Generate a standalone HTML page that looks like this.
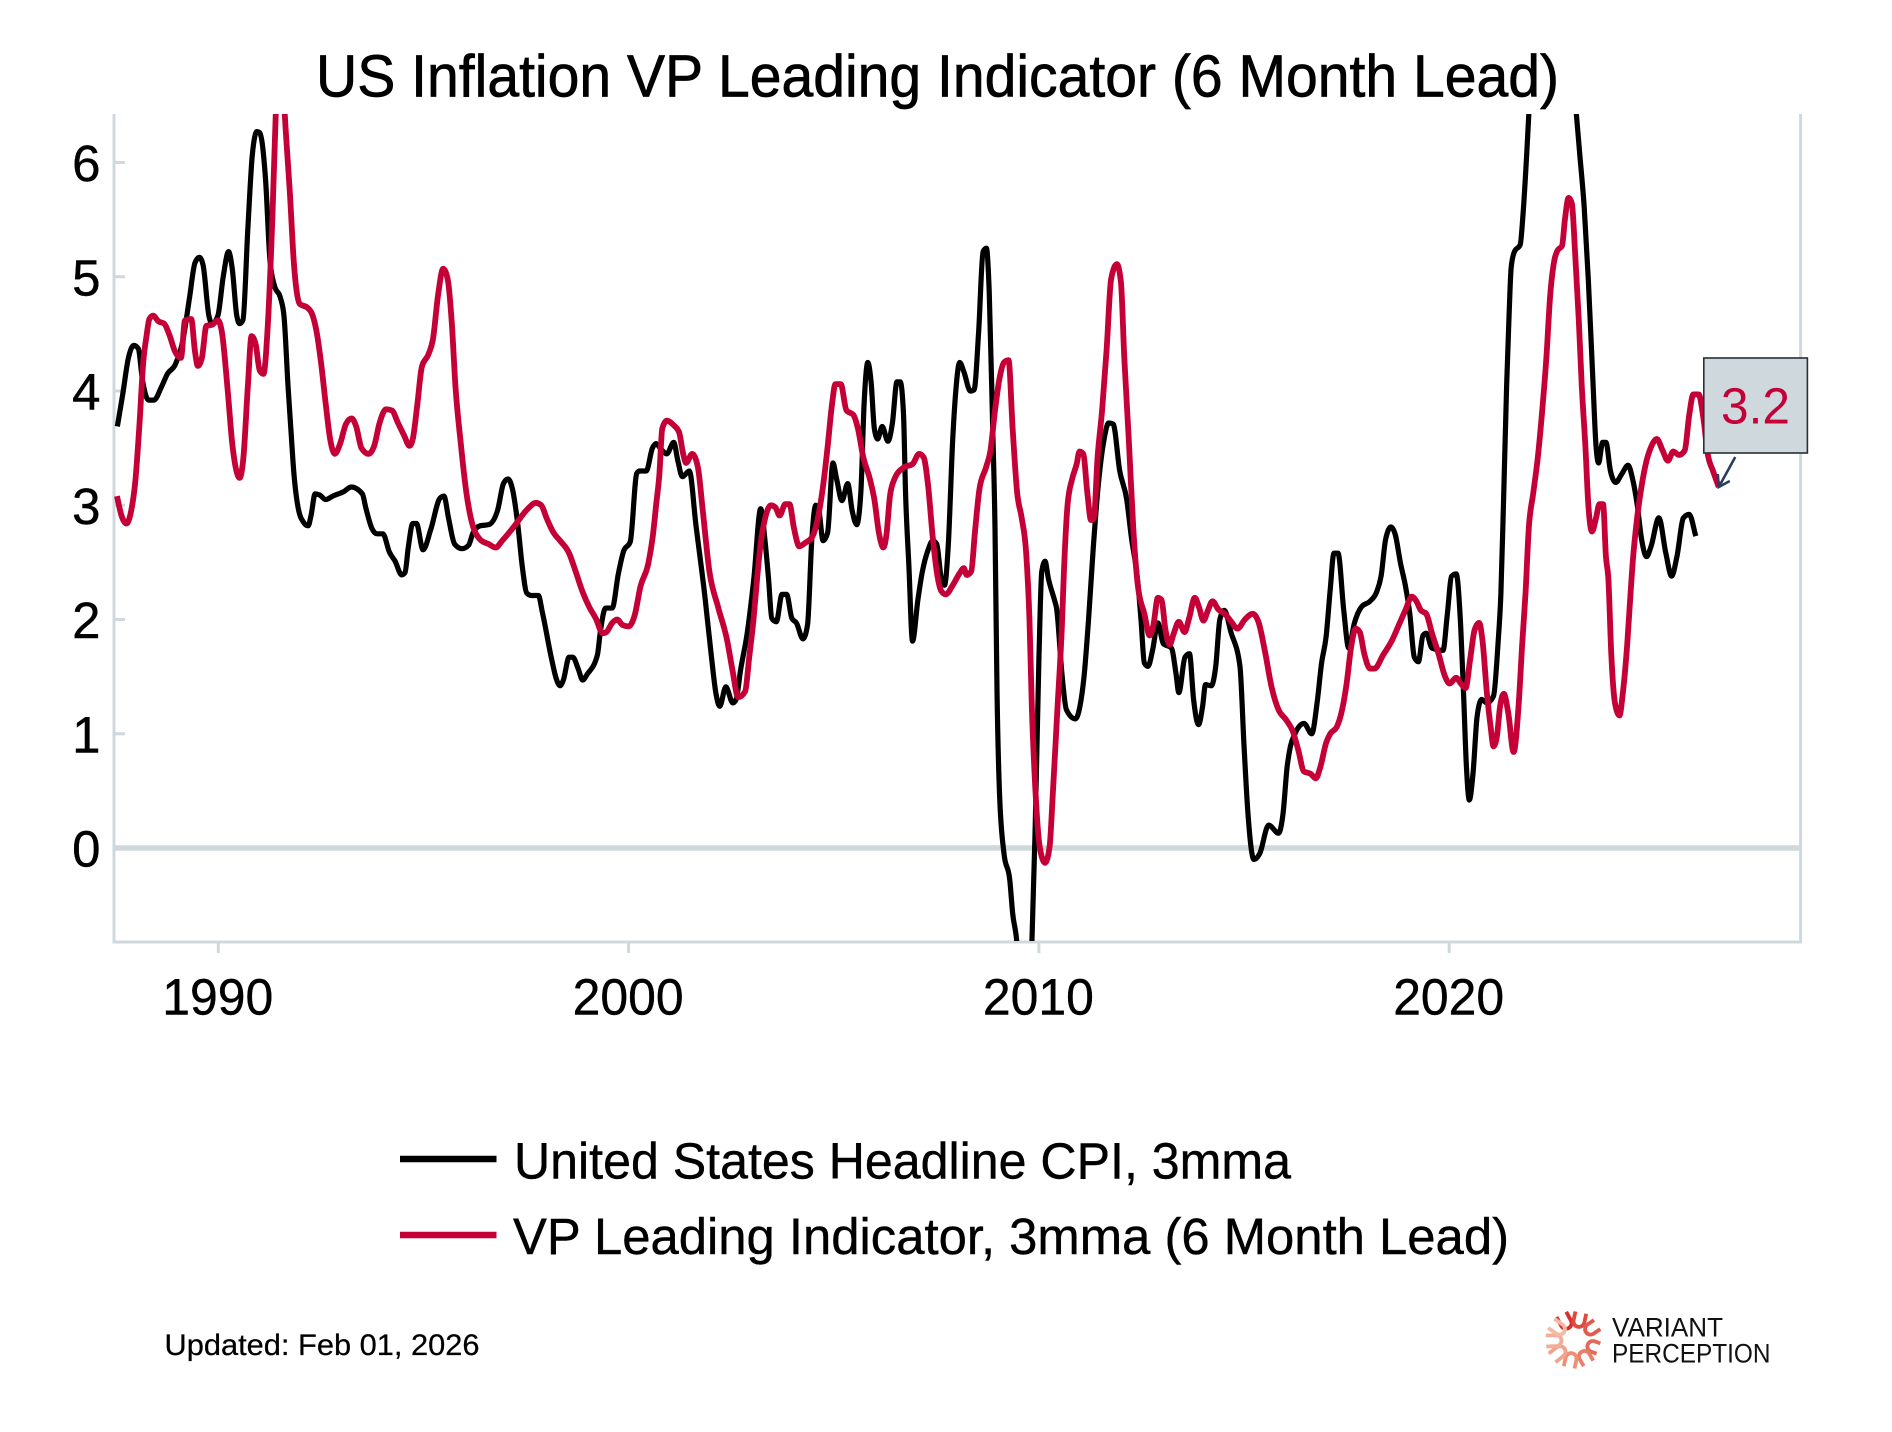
<!DOCTYPE html>
<html lang="en">
<head>
<meta charset="utf-8">
<title>US Inflation VP Leading Indicator (6 Month Lead)</title>
<style>
html,body{margin:0;padding:0;background:#fff;}
svg{display:block;font-family:"Liberation Sans",sans-serif;}
</style>
</head>
<body>
<svg id="chart" xmlns="http://www.w3.org/2000/svg" width="1892" height="1432" viewBox="0 0 1892 1432">
  <defs><clipPath id="plot-clip"><rect x="114" y="114" width="1686" height="827"/></clipPath></defs>
  <rect x="0" y="0" width="1892" height="1432" fill="#fff"/>
  <text x="316" y="96.5" font-size="59" fill="#000" stroke="#000" stroke-width="0.7" textLength="1243" lengthAdjust="spacingAndGlyphs">US Inflation VP Leading Indicator (6 Month Lead)</text>
  <g id="axes"></g>
  <g id="series" clip-path="url(#plot-clip)"></g>
  <g id="callout"></g>

  <line x1="400" y1="1159" x2="496.5" y2="1159" stroke="#000" stroke-width="6.5"/>
  <text x="514" y="1178.5" font-size="51" fill="#000" stroke="#000" stroke-width="0.4" textLength="777" lengthAdjust="spacingAndGlyphs">United States Headline CPI, 3mma</text>
  <line x1="400" y1="1235" x2="496.5" y2="1235" stroke="#C40037" stroke-width="6.5"/>
  <text x="513" y="1254" font-size="51" fill="#000" stroke="#000" stroke-width="0.4" textLength="996" lengthAdjust="spacingAndGlyphs">VP Leading Indicator, 3mma (6 Month Lead)</text>

  <text x="164.5" y="1355" font-size="30" fill="#000" stroke="#000" stroke-width="0.25" textLength="315" lengthAdjust="spacingAndGlyphs">Updated: Feb 01, 2026</text>

  <g id="logo-mark" fill="none" stroke-width="3.8" stroke-linecap="butt"></g>
  <text x="1612" y="1336.7" font-size="26.5" fill="#111" textLength="111" lengthAdjust="spacingAndGlyphs">VARIANT</text>
  <text x="1612" y="1362.3" font-size="26.5" fill="#111" textLength="158.5" lengthAdjust="spacingAndGlyphs">PERCEPTION</text>
</svg>
<script>
var yTickValues = [0, 1, 2, 3, 4, 5, 6];
var xTickYears = [1990, 2000, 2010, 2020];
var calloutLabel = "3.2";

var cpiDates = [
1987.54,1987.67,1987.81,1987.94,1988.05,1988.15,1988.30,1988.43,1988.62,1988.76,
1988.95,1989.14,1989.30,1989.43,1989.54,1989.63,1989.77,1989.85,1989.99,1990.12,
1990.25,1990.34,1990.45,1990.52,1990.60,1990.72,1990.83,1990.94,1991.01,1991.15,
1991.26,1991.37,1991.51,1991.60,1991.70,1991.77,1991.84,1991.95,1992.08,1992.19,
1992.26,1992.36,1992.47,1992.62,1992.79,1993.06,1993.24,1993.51,1993.60,1993.74,
1993.87,1994.01,1994.17,1994.31,1994.47,1994.55,1994.63,1994.74,1994.83,1994.99,
1995.18,1995.40,1995.50,1995.61,1995.76,1995.94,1996.10,1996.21,1996.38,1996.59,
1996.81,1996.95,1997.06,1997.17,1997.30,1997.41,1997.52,1997.63,1997.80,1997.90,
1998.12,1998.23,1998.33,1998.41,1998.55,1998.64,1998.77,1998.88,1998.99,1999.24,
1999.31,1999.44,1999.60,1999.75,1999.88,2000.04,2000.20,2000.27,2000.43,2000.58,
2000.67,2000.77,2000.93,2001.10,2001.20,2001.31,2001.48,2001.64,2001.86,2002.02,
2002.13,2002.22,2002.37,2002.54,2002.62,2002.73,2002.89,2003.05,2003.22,2003.33,
2003.41,2003.49,2003.60,2003.74,2003.85,2003.98,2004.09,2004.25,2004.36,2004.47,
2004.56,2004.63,2004.74,2004.85,2004.98,2005.07,2005.20,2005.34,2005.45,2005.56,
2005.66,2005.74,2005.83,2005.91,2005.99,2006.07,2006.18,2006.32,2006.43,2006.54,
2006.62,2006.70,2006.75,2006.83,2006.92,2007.05,2007.16,2007.30,2007.41,2007.51,
2007.62,2007.70,2007.79,2007.90,2007.97,2008.07,2008.17,2008.33,2008.42,2008.53,
2008.64,2008.72,2008.79,2008.87,2008.93,2008.98,2009.04,2009.15,2009.29,2009.36,
2009.47,2009.55,2009.75,2009.83,2009.91,2010.00,2010.07,2010.15,2010.23,2010.38,
2010.43,2010.56,2010.67,2010.89,2011.00,2011.10,2011.21,2011.32,2011.43,2011.59,
2011.70,2011.81,2011.97,2012.14,2012.25,2012.41,2012.49,2012.57,2012.66,2012.77,
2012.90,2013.03,2013.23,2013.34,2013.41,2013.56,2013.67,2013.77,2013.89,2013.99,
2014.06,2014.20,2014.31,2014.41,2014.52,2014.68,2014.90,2015.00,2015.09,2015.24,
2015.38,2015.60,2015.84,2015.95,2016.05,2016.13,2016.24,2016.46,2016.65,2016.78,
2016.89,2017.00,2017.10,2017.19,2017.29,2017.43,2017.55,2017.69,2017.86,2018.07,
2018.23,2018.34,2018.45,2018.58,2018.68,2018.82,2018.93,2019.04,2019.15,2019.25,
2019.36,2019.44,2019.58,2019.85,2019.95,2020.06,2020.17,2020.28,2020.35,2020.42,
2020.49,2020.58,2020.68,2020.79,2020.92,2021.08,2021.19,2021.26,2021.33,2021.40,
2021.46,2021.51,2021.59,2021.73,2021.80,2021.89,2021.94,2022.50,2023.10,2023.18,
2023.29,2023.39,2023.50,2023.58,2023.64,2023.74,2023.82,2023.93,2024.06,2024.20,
2024.36,2024.47,2024.58,2024.69,2024.81,2024.92,2025.11,2025.28,2025.42,2025.55,
2025.71,2025.85,2026.01
];
var cpiValues = [
3.69,3.97,4.29,4.40,4.37,4.10,3.92,3.92,4.04,4.15,
4.23,4.45,4.82,5.12,5.17,5.10,4.66,4.59,4.66,5.00,
5.22,5.07,4.66,4.59,4.62,5.42,6.07,6.27,6.26,5.86,
5.14,4.92,4.82,4.66,4.04,3.66,3.29,2.97,2.85,2.82,
2.91,3.10,3.09,3.05,3.08,3.12,3.16,3.10,2.97,2.80,
2.75,2.75,2.59,2.51,2.39,2.41,2.63,2.84,2.84,2.61,
2.79,3.06,3.08,2.89,2.66,2.62,2.65,2.76,2.82,2.83,
2.96,3.19,3.23,3.14,2.83,2.46,2.23,2.21,2.21,2.06,
1.66,1.49,1.42,1.47,1.67,1.67,1.57,1.47,1.52,1.69,
1.89,2.10,2.10,2.40,2.60,2.68,3.28,3.30,3.30,3.50,
3.54,3.50,3.45,3.55,3.39,3.25,3.30,2.83,2.20,1.67,
1.35,1.24,1.41,1.27,1.30,1.56,1.88,2.35,2.97,2.67,
2.36,2.01,1.98,2.22,2.22,2.01,1.97,1.83,1.95,2.73,
3.00,2.97,2.69,2.76,3.37,3.23,3.04,3.19,2.95,2.83,
3.11,3.89,4.25,4.08,3.67,3.58,3.69,3.56,3.72,4.08,
4.08,3.80,3.11,2.48,1.81,2.17,2.42,2.61,2.69,2.66,
2.36,2.30,2.64,3.58,3.98,4.25,4.17,4.00,4.01,4.51,
5.22,5.25,4.86,3.73,2.80,1.35,0.48,-0.05,-0.28,-0.57,
-0.86,-1.40,-1.20,-0.82,0.19,1.65,2.42,2.51,2.36,2.17,
2.10,1.53,1.21,1.13,1.24,1.50,2.00,2.60,3.11,3.58,
3.72,3.71,3.30,3.05,2.73,2.33,1.99,1.62,1.59,1.73,
1.97,1.79,1.75,1.53,1.36,1.67,1.70,1.30,1.08,1.24,
1.43,1.42,1.59,2.00,2.08,1.89,1.59,0.89,0.33,-0.10,
-0.05,0.20,0.13,0.30,0.71,0.89,1.00,1.09,1.00,1.27,
1.62,1.85,2.26,2.58,2.58,2.08,1.75,1.97,2.11,2.16,
2.24,2.38,2.70,2.81,2.75,2.48,2.30,2.05,1.67,1.63,
1.86,1.88,1.75,1.73,2.03,2.38,2.40,1.94,1.35,0.71,
0.42,0.65,1.15,1.30,1.27,1.33,1.79,2.23,3.11,4.05,
4.67,5.08,5.22,5.28,5.55,6.08,6.42,8.60,6.42,6.08,
5.61,4.98,4.11,3.51,3.37,3.55,3.55,3.30,3.20,3.27,
3.35,3.23,3.01,2.70,2.55,2.64,2.89,2.58,2.38,2.55,
2.89,2.92,2.73
];

var vpDates = [
1987.53,1987.64,1987.76,1987.87,1987.98,1988.07,1988.18,1988.25,1988.32,1988.41,
1988.54,1988.68,1988.81,1988.94,1989.09,1989.19,1989.34,1989.43,1989.50,1989.60,
1989.71,1989.85,1989.99,1990.09,1990.23,1990.34,1990.45,1990.52,1990.61,1990.72,
1990.81,1990.91,1991.01,1991.10,1991.21,1991.32,1991.40,1991.51,1991.62,1991.75,
1991.84,1991.99,1992.17,1992.30,1992.40,1992.51,1992.62,1992.73,1992.84,1992.97,
1993.11,1993.25,1993.36,1993.49,1993.66,1993.80,1993.93,1994.09,1994.23,1994.38,
1994.53,1994.66,1994.74,1994.85,1994.96,1995.12,1995.23,1995.36,1995.48,1995.59,
1995.69,1995.78,1995.91,1996.05,1996.16,1996.38,1996.59,1996.76,1996.92,1997.20,
1997.52,1997.74,1997.87,1998.01,1998.17,1998.33,1998.55,1998.71,1998.88,1999.04,
1999.20,1999.37,1999.46,1999.60,1999.72,1999.86,2000.00,2000.15,2000.29,2000.48,
2000.59,2000.67,2000.75,2000.82,2000.93,2001.10,2001.23,2001.33,2001.40,2001.55,
2001.69,2001.80,2001.97,2002.18,2002.40,2002.53,2002.67,2002.84,2002.94,2003.05,
2003.13,2003.22,2003.33,2003.47,2003.58,2003.68,2003.82,2003.92,2004.03,2004.16,
2004.30,2004.47,2004.63,2004.74,2004.85,2004.96,2005.04,2005.17,2005.31,2005.48,
2005.59,2005.72,2005.88,2005.99,2006.10,2006.21,2006.28,2006.37,2006.48,2006.70,
2006.92,2007.08,2007.19,2007.30,2007.41,2007.51,2007.62,2007.73,2007.90,2008.06,
2008.17,2008.24,2008.35,2008.44,2008.55,2008.71,2008.82,2008.93,2009.04,2009.15,
2009.26,2009.36,2009.47,2009.58,2009.69,2009.77,2009.83,2009.91,2010.02,2010.15,
2010.26,2010.34,2010.45,2010.56,2010.61,2010.70,2010.81,2010.92,2010.99,2011.08,
2011.18,2011.27,2011.34,2011.43,2011.54,2011.65,2011.76,2011.90,2012.00,2012.08,
2012.19,2012.30,2012.41,2012.57,2012.70,2012.79,2012.90,2012.99,2013.08,2013.19,
2013.28,2013.41,2013.55,2013.66,2013.80,2013.90,2014.01,2014.12,2014.23,2014.37,
2014.53,2014.69,2014.84,2015.02,2015.21,2015.35,2015.51,2015.67,2015.84,2016.03,
2016.19,2016.32,2016.46,2016.62,2016.75,2016.86,2017.00,2017.10,2017.26,2017.39,
2017.50,2017.61,2017.72,2017.82,2017.93,2018.07,2018.18,2018.39,2018.61,2018.77,
2018.93,2019.09,2019.20,2019.31,2019.44,2019.58,2019.74,2019.90,2020.01,2020.17,
2020.28,2020.40,2020.51,2020.62,2020.73,2020.81,2020.92,2021.01,2021.08,2021.16,
2021.24,2021.33,2021.44,2021.57,2021.69,2021.78,2021.86,2021.94,2022.05,2022.16,
2022.26,2022.37,2022.46,2022.56,2022.64,2022.75,2022.82,2022.91,2022.99,2023.07,
2023.16,2023.23,2023.32,2023.39,2023.48,2023.58,2023.66,2023.75,2023.82,2023.88,
2023.95,2024.04,2024.15,2024.23,2024.34,2024.42,2024.47,2024.58,2024.69,2024.81,
2024.92,2025.06,2025.20,2025.33,2025.46,2025.60,2025.74,2025.85,2025.95,2026.08,
2026.20,2026.30,2026.43,2026.57
];
var vpValues = [
3.08,2.91,2.84,2.94,3.22,3.66,4.29,4.48,4.63,4.66,
4.61,4.59,4.49,4.35,4.29,4.62,4.63,4.35,4.22,4.29,
4.57,4.58,4.62,4.51,4.00,3.54,3.29,3.24,3.41,4.04,
4.48,4.41,4.18,4.15,4.60,5.54,6.42,7.20,6.42,5.70,
5.13,4.76,4.73,4.66,4.51,4.23,3.88,3.57,3.45,3.54,
3.71,3.76,3.69,3.50,3.45,3.52,3.72,3.84,3.83,3.72,
3.61,3.52,3.58,3.88,4.21,4.32,4.45,4.85,5.07,4.98,
4.60,4.04,3.54,3.10,2.88,2.70,2.66,2.63,2.69,2.81,
2.96,3.02,3.00,2.88,2.76,2.69,2.58,2.42,2.24,2.11,
2.01,1.88,1.89,1.97,2.00,1.95,1.94,2.04,2.29,2.49,
2.73,3.00,3.27,3.67,3.74,3.70,3.64,3.45,3.37,3.45,
3.33,2.98,2.42,2.11,1.82,1.56,1.32,1.37,1.67,2.02,
2.35,2.67,2.89,3.00,2.98,2.91,3.01,3.01,2.80,2.64,
2.67,2.72,2.92,3.17,3.51,3.89,4.06,4.06,3.83,3.79,
3.67,3.42,3.23,3.05,2.76,2.63,2.73,3.08,3.23,3.33,
3.36,3.45,3.42,3.17,2.73,2.42,2.25,2.22,2.30,2.40,
2.45,2.39,2.42,2.76,3.14,3.33,3.48,3.83,4.11,4.25,
4.27,3.67,3.11,2.89,2.58,2.00,1.21,0.54,0.01,-0.13,
0.01,0.48,1.21,1.94,2.42,3.01,3.23,3.36,3.47,3.45,
3.11,2.87,2.89,3.42,3.83,4.36,4.98,5.11,4.95,4.30,
3.58,2.80,2.30,2.05,1.86,1.95,2.19,2.17,1.92,1.78,
1.87,1.98,1.89,2.01,2.19,2.11,1.99,2.08,2.16,2.09,
2.05,1.98,1.92,2.00,2.05,1.98,1.72,1.41,1.21,1.12,
1.02,0.86,0.67,0.65,0.61,0.71,0.92,1.00,1.06,1.21,
1.44,1.76,1.92,1.89,1.70,1.57,1.57,1.69,1.82,1.95,
2.08,2.20,2.16,2.08,2.05,1.88,1.70,1.50,1.44,1.49,
1.44,1.40,1.65,1.91,1.97,1.82,1.35,1.06,0.89,0.97,
1.24,1.35,1.18,0.84,1.24,1.79,2.23,2.80,3.11,3.42,
3.80,4.30,4.83,5.14,5.23,5.27,5.50,5.69,5.64,5.20,
4.61,4.05,3.51,3.01,2.77,2.89,3.01,3.01,2.55,2.35,
1.70,1.27,1.16,1.35,1.79,2.23,2.49,2.89,3.17,3.39,
3.51,3.58,3.48,3.39,3.47,3.44,3.48,3.79,3.97,3.97,
3.75,3.45,3.30,3.16
];

var SVG_NS = "http://www.w3.org/2000/svg";
var AXIS_COLOR = "#CFD8DC";

function xScale(year) { return 218.3 + 41.03 * (year - 1990); }
function yScale(value) { return 848 - 114.25 * value; }

function sign(v) { return v < 0 ? -1 : 1; }

function buildPath(dates, values) {
  var n = Math.min(dates.length, values.length);
  var xs = [], ys = [], slopes = [], i;
  for (i = 0; i < n; i++) { xs.push(xScale(dates[i])); ys.push(yScale(values[i])); }
  for (i = 0; i < n; i++) {
    if (i === 0) { slopes.push((ys[1] - ys[0]) / (xs[1] - xs[0])); continue; }
    if (i === n - 1) { slopes.push((ys[i] - ys[i - 1]) / (xs[i] - xs[i - 1])); continue; }
    var h0 = xs[i] - xs[i - 1], h1 = xs[i + 1] - xs[i];
    var s0 = (ys[i] - ys[i - 1]) / h0, s1 = (ys[i + 1] - ys[i]) / h1;
    var p = (s0 * h1 + s1 * h0) / (h0 + h1);
    slopes.push((sign(s0) + sign(s1)) * Math.min(Math.abs(s0), Math.abs(s1), 0.5 * Math.abs(p)));
  }
  var d = "M" + xs[0].toFixed(2) + "," + ys[0].toFixed(2);
  for (i = 1; i < n; i++) {
    var dx = (xs[i] - xs[i - 1]) / 3;
    d += "C" + (xs[i - 1] + dx).toFixed(2) + "," + (ys[i - 1] + dx * slopes[i - 1]).toFixed(2) +
         " " + (xs[i] - dx).toFixed(2) + "," + (ys[i] - dx * slopes[i]).toFixed(2) +
         " " + xs[i].toFixed(2) + "," + ys[i].toFixed(2);
  }
  return d;
}

var axes = document.getElementById("axes");
var seriesGroup = document.getElementById("series");
var calloutGroup = document.getElementById("callout");
var logoGroup = document.getElementById("logo-mark");

var leftSpine = document.createElementNS(SVG_NS, "line");


leftSpine.setAttribute("x1", 114); leftSpine.setAttribute("x2", 114);
leftSpine.setAttribute("y1", 114); leftSpine.setAttribute("y2", 943.5);
leftSpine.setAttribute("stroke", AXIS_COLOR); leftSpine.setAttribute("stroke-width", 3);
axes.appendChild(leftSpine);

var rightSpine = document.createElementNS(SVG_NS, "line");


rightSpine.setAttribute("x1", 1800.6); rightSpine.setAttribute("x2", 1800.6);
rightSpine.setAttribute("y1", 114); rightSpine.setAttribute("y2", 943.5);
rightSpine.setAttribute("stroke", AXIS_COLOR); rightSpine.setAttribute("stroke-width", 3);
axes.appendChild(rightSpine);

var bottomSpine = document.createElementNS(SVG_NS, "line");


bottomSpine.setAttribute("x1", 112.5); bottomSpine.setAttribute("x2", 1802);
bottomSpine.setAttribute("y1", 942); bottomSpine.setAttribute("y2", 942);
bottomSpine.setAttribute("stroke", AXIS_COLOR); bottomSpine.setAttribute("stroke-width", 3);
axes.appendChild(bottomSpine);

var zeroLine = document.createElementNS(SVG_NS, "line");


zeroLine.setAttribute("x1", 115); zeroLine.setAttribute("x2", 1800);
zeroLine.setAttribute("y1", yScale(0)); zeroLine.setAttribute("y2", yScale(0));
zeroLine.setAttribute("stroke", AXIS_COLOR); zeroLine.setAttribute("stroke-width", 5.5);
axes.appendChild(zeroLine);

yTickValues.forEach(function (v) {
  var tick = document.createElementNS(SVG_NS, "line");
  
  
  tick.setAttribute("x1", 115); tick.setAttribute("x2", 125);
  tick.setAttribute("y1", yScale(v)); tick.setAttribute("y2", yScale(v));
  tick.setAttribute("stroke", AXIS_COLOR); tick.setAttribute("stroke-width", 3);
  axes.appendChild(tick);

  var label = document.createElementNS(SVG_NS, "text");
  
  
  label.setAttribute("x", 100.5); label.setAttribute("y", yScale(v) + 18.5);
  label.setAttribute("text-anchor", "end");
  label.setAttribute("font-size", 51); label.setAttribute("fill", "#000");
  label.setAttribute("stroke", "#000"); label.setAttribute("stroke-width", 0.4);
  label.textContent = String(v);
  axes.appendChild(label);
});

xTickYears.forEach(function (yr) {
  var tick = document.createElementNS(SVG_NS, "line");
  
  
  tick.setAttribute("x1", xScale(yr)); tick.setAttribute("x2", xScale(yr));
  tick.setAttribute("y1", 943); tick.setAttribute("y2", 953);
  tick.setAttribute("stroke", AXIS_COLOR); tick.setAttribute("stroke-width", 3);
  axes.appendChild(tick);

  var label = document.createElementNS(SVG_NS, "text");
  
  
  label.setAttribute("x", xScale(yr) - 56); label.setAttribute("y", 1014.5);
  label.setAttribute("font-size", 51); label.setAttribute("fill", "#000");
  label.setAttribute("stroke", "#000"); label.setAttribute("stroke-width", 0.4);
  label.setAttribute("textLength", 111);
  label.setAttribute("lengthAdjust", "spacingAndGlyphs");
  label.textContent = String(yr);
  axes.appendChild(label);
});

var cpiLine = document.createElementNS(SVG_NS, "path");


cpiLine.setAttribute("d", buildPath(cpiDates, cpiValues));
cpiLine.setAttribute("fill", "none"); cpiLine.setAttribute("stroke", "#000");
cpiLine.setAttribute("stroke-width", 5.2); cpiLine.setAttribute("stroke-linejoin", "round");
seriesGroup.appendChild(cpiLine);

var vpLine = document.createElementNS(SVG_NS, "path");


vpLine.setAttribute("d", buildPath(vpDates, vpValues));
vpLine.setAttribute("fill", "none"); vpLine.setAttribute("stroke", "#C40037");
vpLine.setAttribute("stroke-width", 5.8); vpLine.setAttribute("stroke-linejoin", "round");
seriesGroup.appendChild(vpLine);

var lastIdx = Math.min(vpDates.length, vpValues.length) - 1;
var tipX = xScale(vpDates[lastIdx]);
var tipY = yScale(vpValues[lastIdx]);

var arrow = document.createElementNS(SVG_NS, "path");


arrow.setAttribute("d", "M" + (tipX + 16.5) + "," + (tipY - 30) + "L" + tipX + "," + tipY +
  "M" + (tipX - 1) + "," + (tipY - 13) + "L" + tipX + "," + tipY + "L" + (tipX + 11) + "," + (tipY - 6));
arrow.setAttribute("fill", "none"); arrow.setAttribute("stroke", "#2C3E5E");
arrow.setAttribute("stroke-width", 2.6);
calloutGroup.appendChild(arrow);

var box = document.createElementNS(SVG_NS, "rect");


box.setAttribute("x", 1703.8); box.setAttribute("y", 358);
box.setAttribute("width", 103.6); box.setAttribute("height", 95);
box.setAttribute("fill", "#CFD8DC"); box.setAttribute("stroke", "#263036");
box.setAttribute("stroke-width", 1.6);
calloutGroup.appendChild(box);

var calloutText = document.createElementNS(SVG_NS, "text");


calloutText.setAttribute("x", 1721); calloutText.setAttribute("y", 423.5);
calloutText.setAttribute("font-size", 51); calloutText.setAttribute("fill", "#C40037");
calloutText.setAttribute("textLength", 69);
calloutText.setAttribute("lengthAdjust", "spacingAndGlyphs");
calloutText.textContent = calloutLabel;
calloutGroup.appendChild(calloutText);

var logoAngles = [-28, 12, 55, 110, 150, 192, 232, 268, 305];
var logoColors = ["#D8302C", "#DE4A3E", "#E25A4C", "#E46A58", "#E97F68", "#EE9078", "#F1A38E", "#F3AE98", "#F4BAA6"];
var logoOuter = [29, 28, 27, 25, 27, 28, 29, 29, 29];
logoAngles.forEach(function (a, i) {
  var u = document.createElementNS(SVG_NS, "path");
  
  
  var r = logoOuter[i], w = 5.5;
  u.setAttribute("d", "M" + (-w) + "," + (-r) + "L" + (-w) + "," + (-19) + "A" + w + "," + w + " 0 0 0 " + w + "," + (-19) + "L" + w + "," + (-r));
  u.setAttribute("stroke", logoColors[i]);
  u.setAttribute("transform", "translate(1575,1340) rotate(" + a + ")");
  logoGroup.appendChild(u);
});
</script>
</body>
</html>
